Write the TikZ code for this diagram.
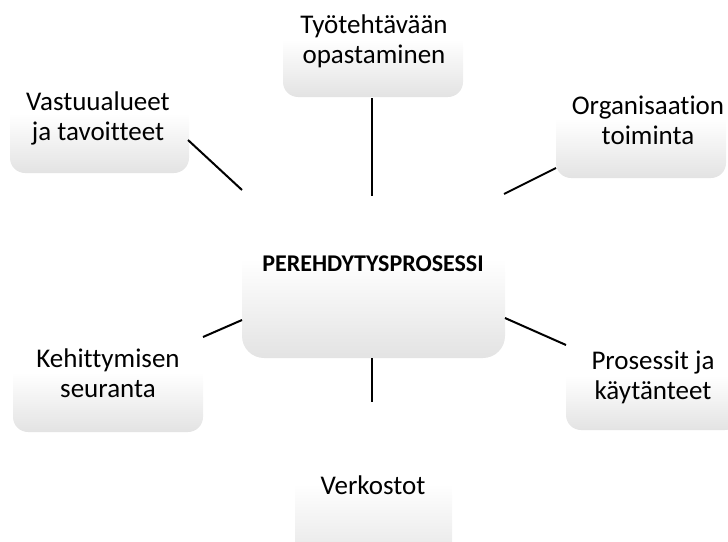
\documentclass[tikz,border=0pt]{standalone}
\usepackage{fontspec}
\setmainfont{Carlito}[Ligatures=CommonOff]
% white over the upper half, fading to light grey at the bottom
\pgfdeclareverticalshading{fadebox}{100bp}{%
  color(0bp)=(black!11); color(25bp)=(black!11);
  color(52bp)=(white); color(100bp)=(white)}
\begin{document}
\begin{tikzpicture}[x=1pt,y=-1pt,
  box/.style={draw=none, shading=fadebox, rounded corners=15pt},
  bigbox/.style={box, rounded corners=22pt},
  lbl/.style={align=center, anchor=base, font=\fontsize{27}{30}\selectfont, inner sep=0pt},
  title/.style={anchor=base, font=\fontsize{24}{28}\selectfont\bfseries, inner sep=0pt},
  link/.style={line width=2pt, black}]
\useasboundingbox (0,0) rectangle (728,541);

% rounded, shaded boxes (left, top) -- (right, bottom)
\shade[bigbox] (242,175) rectangle (505,358);
\shade[box] (283,-10) rectangle (463,97);
\shade[box] (10,63) rectangle (189,173);
\shade[box] (556,68) rectangle (726,178);
\shade[box] (13,322) rectangle (203,432);
\shade[box] (566,330) rectangle (740,430);
\shade[box] (295,410) rectangle (452,570);

% labels, placed at the baseline of their last line
\node[title] (center) at (373,271) {PEREHDYTYSPROSESSI};
\node[lbl] (top) at (374,63) {Työtehtävään\\opastaminen};
\node[lbl] (ul) at (98,140) {Vastuualueet\\ja tavoitteet};
\node[lbl] (ur) at (648,144) {Organisaation\\toiminta};
\node[lbl] (ll) at (108,397) {Kehittymisen\\seuranta};
\node[lbl] (lr) at (653,399) {Prosessit ja\\käytänteet};
\node[lbl] (bot) at (373,494) {Verkostot};

% connector end points
\coordinate (t1) at (372,98);  \coordinate (t2) at (372,196);
\coordinate (a1) at (188,140); \coordinate (a2) at (242,190);
\coordinate (b1) at (556,168); \coordinate (b2) at (504,194);
\coordinate (c1) at (203,337); \coordinate (c2) at (242,320);
\coordinate (d1) at (566,345); \coordinate (d2) at (505,318);
\coordinate (e1) at (372,358); \coordinate (e2) at (372,402);

\draw[link] (t1) -- (t2);
\draw[link] (a1) -- (a2);
\draw[link] (b1) -- (b2);
\draw[link] (c1) -- (c2);
\draw[link] (d1) -- (d2);
\draw[link] (e1) -- (e2);
\end{tikzpicture}
\end{document}
